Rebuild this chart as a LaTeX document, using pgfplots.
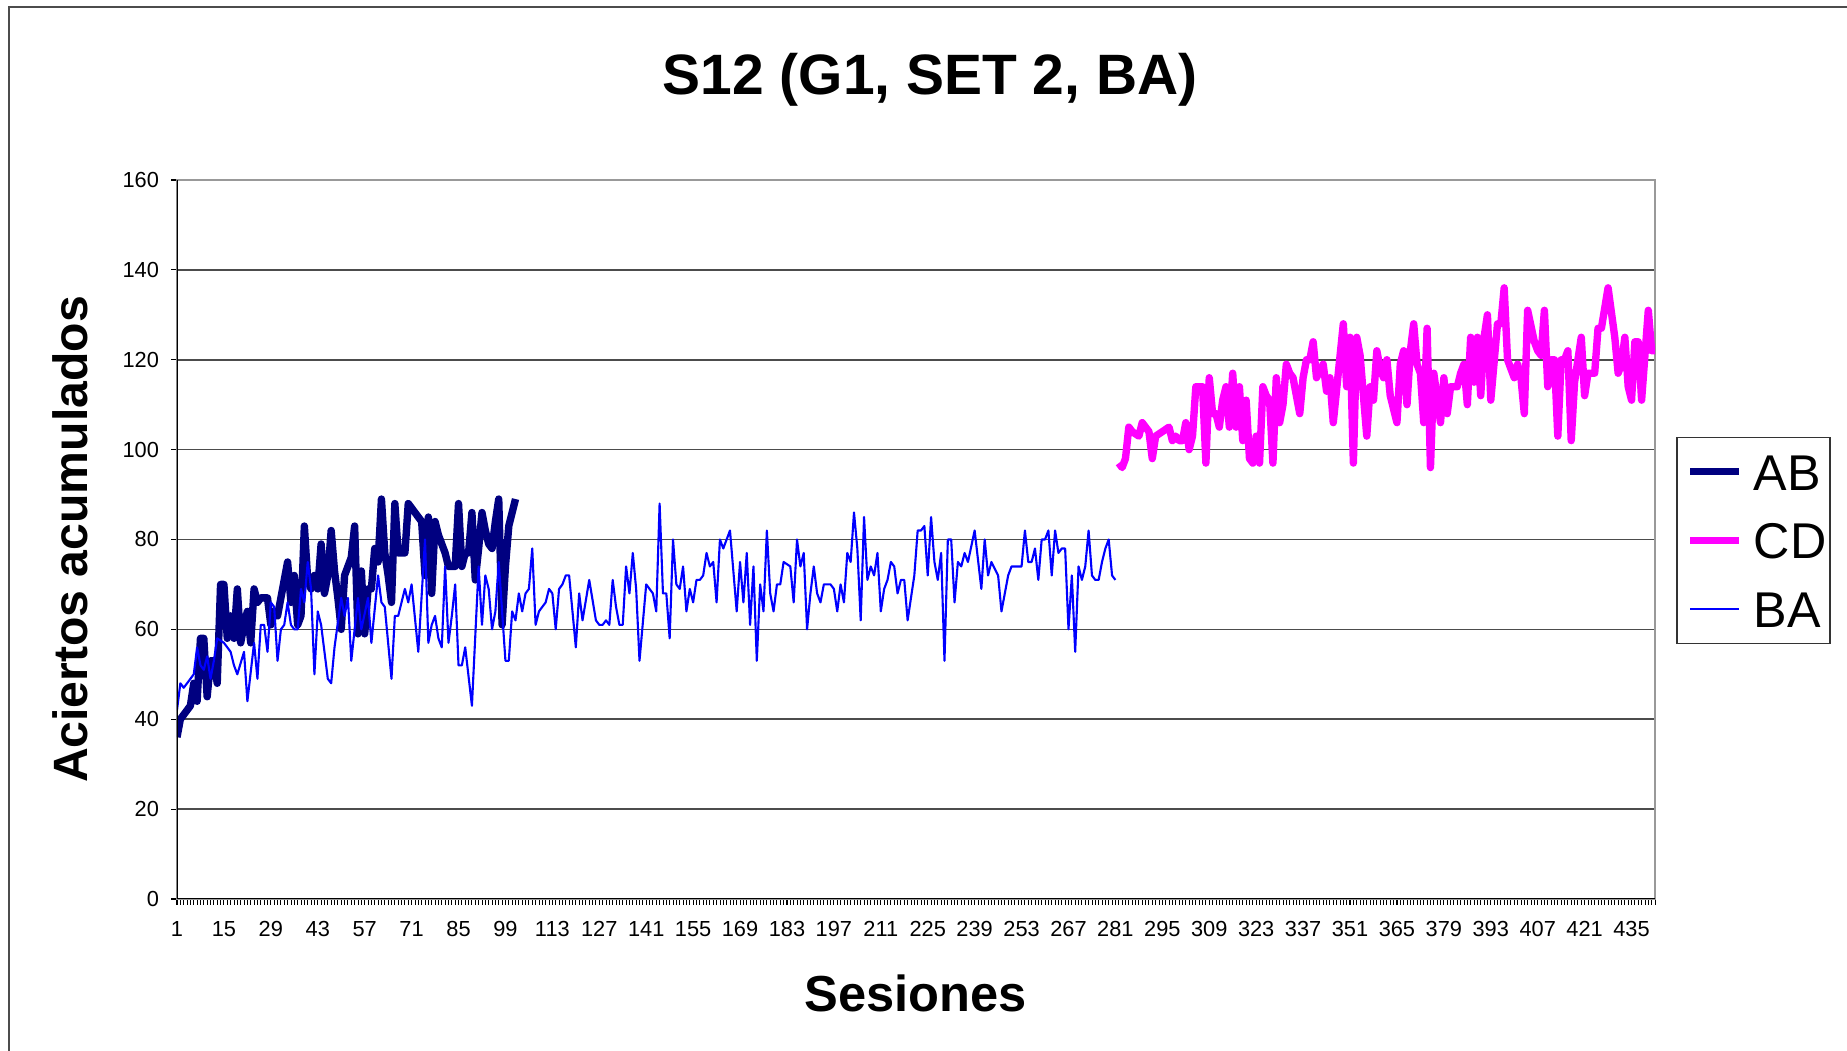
\documentclass[border=0pt]{standalone}
\usepackage{pgfplots}
\pgfplotsset{compat=1.18}
\usepackage{fontspec}
\setmainfont{Liberation Sans}
\definecolor{abcol}{HTML}{000080}
\definecolor{cdcol}{HTML}{FF00FF}
\definecolor{bacol}{HTML}{0000FF}
\begin{document}
\begin{tikzpicture}
\useasboundingbox (0,0) rectangle (18.47cm,10.51cm);
\draw[black!70, line width=0.45pt] (0.09cm,-1cm) -- (0.09cm,10.44cm) -- (20cm,10.44cm);
\begin{axis}[
  at={(1.77cm,1.52cm)}, anchor=south west,
  scale only axis, width=14.78cm, height=7.19cm,
  xmin=1, xmax=442, ymin=0, ymax=160,
  xtick={1,15,...,435}, minor xtick={1,...,442},
  ytick={0,20,...,160},
  xtick pos=bottom, ytick pos=left,
  tick align=outside,
  major tick length=1.6pt, minor tick length=1.6pt,
  every tick/.style={black, line width=0.3pt},
  every minor tick/.style={black, line width=0.25pt},
  ymajorgrids, grid style={black!70, line width=0.45pt},
  axis line style={draw=gray!80, line width=0.45pt},
  /pgf/number format/assume math mode=true,
  tick label style={font=\fontsize{6.2}{7}\selectfont},
  xticklabel style={yshift=-1.3pt},
  title={S12 (G1, SET 2, BA)},
  title style={font=\bfseries\fontsize{16.2}{19}\selectfont, at={(axis description cs:0.5095,1.110)}, anchor=center, yshift=0pt},
  xlabel={Sesiones},
  xlabel style={font=\bfseries\fontsize{14.4}{17}\selectfont, at={(axis description cs:0.5,-0.1307)}, anchor=center},
  ylabel={Aciertos acumulados},
  ylabel style={font=\bfseries\fontsize{13.7}{17}\selectfont, at={(axis description cs:-0.0719,0.5)}, anchor=center},
  legend cell align=left,
  legend style={at={(1.0142,0.4986)}, anchor=west, draw=black!80, line width=0.45pt, fill=white,
    font=\fontsize{14.3}{16}\selectfont, inner xsep=1pt, inner ysep=4.4pt, row sep=9.1pt, column sep=3.2pt,
    nodes={inner sep=0pt, text height=10.5pt, text depth=0pt}},
  legend image code/.code={\path (-0.06cm,0cm); \draw[#1] (0cm,0cm) -- (0.49cm,0cm);},
]
\addplot[abcol, line width=2.1pt, line join=round] coordinates {
(1,36)(2,40)(3,41)(4,42)(5,43)(6,48)(7,44)(8,58)(9,58)(10,45)(11,53)(12,53)(13,48)(14,70)(15,70)(16,58)(17,63)(18,58)(19,69)(20,57)(21,61)(22,64)(23,57)(24,69)(25,66)(26,67)(27,67)(28,67)(29,61)(30,64)(31,63)(32,67)(33,71)(34,75)(35,66)(36,72)(37,61)(38,63)(39,83)(40,71)(41,69)(42,72)(43,69)(44,79)(45,68)(46,72)(47,82)(48,73)(49,67)(50,60)(51,72)(52,74)(53,76)(54,83)(55,59)(56,73)(57,59)(58,69)(59,69)(60,78)(61,75)(62,89)(63,77)(64,72)(65,66)(66,88)(67,77)(68,77)(69,77)(70,88)(71,87)(72,86)(73,85)(74,84)(75,72)(76,85)(77,68)(78,84)(79,81)(80,79)(81,77)(82,74)(83,74)(84,74)(85,88)(86,74)(87,77)(88,77)(89,86)(90,71)(91,78)(92,86)(93,82)(94,79)(95,78)(96,84)(97,89)(98,61)(99,74)(100,83)(101,86)(102,89)
};
\addlegendentry{AB}
\addplot[cdcol, line width=2.1pt, line join=round] coordinates {
(282,97)(283,96)(284,98)(285,105)(286,104)(288,103)(289,106)(291,104)(292,98)(293,103)(297,105)(298,102)(299,103)(300,102)(301,102)(302,106)(303,100)(304,103)(305,114)(307,114)(308,97)(309,116)(310,108)(311,108)(312,105)(313,111)(314,114)(315,105)(316,117)(317,105)(318,114)(319,102)(320,111)(321,98)(322,97)(323,103)(324,97)(325,114)(326,112)(327,111)(328,97)(329,116)(330,106)(331,110)(332,119)(333,117)(334,116)(336,108)(337,116)(338,120)(339,120)(340,124)(341,116)(343,119)(344,113)(345,116)(346,106)(349,128)(350,114)(351,125)(352,97)(353,125)(354,121)(356,103)(357,114)(358,111)(359,122)(360,118)(361,116)(362,120)(363,112)(365,106)(366,119)(367,122)(368,110)(369,122)(370,128)(371,119)(372,117)(373,106)(374,127)(375,96)(376,117)(378,106)(379,116)(380,108)(381,114)(383,114)(384,117)(385,119)(386,110)(387,125)(388,115)(389,125)(390,112)(391,125)(392,130)(393,111)(395,128)(396,128)(397,136)(398,120)(400,116)(401,119)(402,116)(403,108)(404,131)(406,124)(407,122)(408,121)(409,131)(410,114)(411,120)(412,120)(413,103)(414,120)(415,120)(416,122)(417,102)(418,115)(420,125)(421,112)(422,117)(424,117)(425,127)(426,127)(428,136)(430,125)(431,117)(432,119)(433,125)(434,114)(435,111)(436,124)(437,124)(438,111)(440,131)(441,122)(442,122)
};
\addlegendentry{CD}
\addplot[bacol, line width=0.6pt, line join=round] coordinates {
(1,42)(2,48)(3,47)(4,48)(5,49)(6,50)(7,56)(8,52)(9,51)(10,54)(11,49)(12,53)(13,58)(15,57)(16,56)(17,55)(18,52)(19,50)(21,55)(22,44)(24,57)(25,49)(26,61)(27,61)(28,55)(29,66)(30,65)(31,53)(32,60)(33,61)(34,66)(35,61)(36,60)(37,60)(38,69)(39,66)(40,75)(41,69)(42,50)(43,64)(44,61)(46,49)(47,48)(48,56)(50,67)(51,63)(52,67)(53,53)(55,67)(56,60)(58,67)(59,57)(61,72)(62,66)(63,65)(65,49)(66,63)(67,63)(69,69)(70,66)(71,70)(73,55)(75,80)(76,57)(77,61)(78,63)(79,58)(80,56)(81,74)(82,57)(83,63)(84,70)(85,52)(86,52)(87,56)(89,43)(91,74)(92,61)(93,72)(94,69)(95,60)(96,64)(97,75)(99,53)(100,53)(101,64)(102,62)(103,68)(104,64)(105,68)(106,69)(107,78)(108,61)(109,64)(111,66)(112,69)(113,68)(114,60)(115,69)(116,70)(117,72)(118,72)(120,56)(121,68)(122,62)(124,71)(126,62)(127,61)(128,61)(129,62)(130,61)(131,71)(132,65)(133,61)(134,61)(135,74)(136,68)(137,77)(138,69)(139,53)(141,70)(142,69)(143,68)(144,64)(145,88)(146,68)(147,68)(148,58)(149,80)(150,70)(151,69)(152,74)(153,64)(154,69)(155,66)(156,71)(157,71)(158,72)(159,77)(160,74)(161,75)(162,66)(163,80)(164,78)(166,82)(168,64)(169,75)(170,66)(171,77)(172,61)(173,74)(174,53)(175,70)(176,64)(177,82)(178,68)(179,64)(180,70)(181,70)(182,75)(184,74)(185,66)(186,80)(187,74)(188,77)(189,60)(190,68)(191,74)(192,68)(193,66)(194,70)(196,70)(197,69)(198,64)(199,70)(200,66)(201,77)(202,75)(203,86)(204,78)(205,62)(206,85)(207,71)(208,74)(209,72)(210,77)(211,64)(212,69)(213,71)(214,75)(215,74)(216,68)(217,71)(218,71)(219,62)(221,72)(222,82)(223,82)(224,83)(225,72)(226,85)(227,75)(228,71)(229,77)(230,53)(231,80)(232,80)(233,66)(234,75)(235,74)(236,77)(237,75)(239,82)(241,69)(242,80)(243,72)(244,75)(246,72)(247,64)(249,72)(250,74)(253,74)(254,82)(255,75)(256,75)(257,78)(258,71)(259,80)(260,80)(261,82)(262,72)(263,82)(264,77)(265,78)(266,78)(267,60)(268,72)(269,55)(270,74)(271,71)(272,74)(273,82)(274,72)(275,71)(276,71)(277,75)(278,78)(279,80)(280,72)(281,71)
};
\addlegendentry{BA}
\draw[black, line width=0.5pt] (rel axis cs:0,0) -- (rel axis cs:0,1);
\draw[black, line width=0.5pt] (rel axis cs:0,0) -- (rel axis cs:1,0);
\end{axis}
\end{tikzpicture}
\end{document}
